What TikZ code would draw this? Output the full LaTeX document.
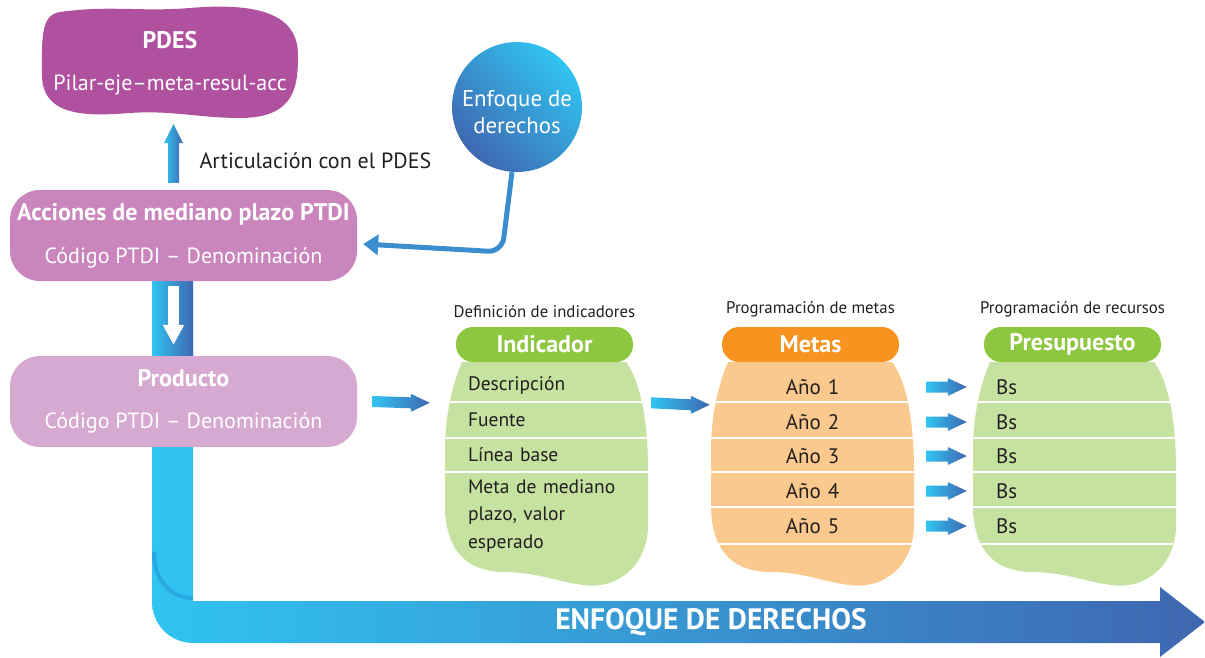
\documentclass[tikz,border=0pt]{standalone}
\usepackage{fontspec}
\setmainfont{PT Sans}
\usetikzlibrary{arrows.meta,calc,positioning}

\definecolor{pdespurple}{HTML}{B0519F}
\definecolor{accpurple}{HTML}{C985BC}
\definecolor{prodpurple}{HTML}{D6A9D0}
\definecolor{headgreen}{HTML}{8DC63F}
\definecolor{bodygreen}{HTML}{C6E2A0}
\definecolor{headorange}{HTML}{F7931E}
\definecolor{bodyorange}{HTML}{FBC98E}
\definecolor{arrcyan}{HTML}{30C4F1}
\definecolor{arrblue}{HTML}{3F67B0}
\definecolor{linkblue}{HTML}{3A8ED0}
\definecolor{foldcyan}{HTML}{29A9E1}
\definecolor{textdark}{HTML}{231F20}

% body of a column (indicador position, shifted for the others)
\newcommand{\blobpath}{(462,362) -- (626,362) .. controls (640,380) and (648,420) .. (648,470)
  -- (648,525) .. controls (648,565) and (618,590) .. (583,585)
  .. controls (555,581) and (535,572) .. (505,572)
  .. controls (462,572) and (445,545) .. (445,505)
  -- (445,450) .. controls (445,410) and (455,378) .. (462,362) -- cycle}

% small gradient arrow between two named coordinates
\newcommand{\garrow}[2]{%
  \shade[left color=arrcyan, right color=arrblue]
    ($(#1)+(0,-5.5)$) -- ($(#2)+(-19,-5.5)$) -- ($(#2)+(-19,-9)$) -- (#2)
    -- ($(#2)+(-19,9)$) -- ($(#2)+(-19,5.5)$) -- ($(#1)+(0,5.5)$) -- cycle;}

\tikzset{
  box/.style={rounded corners=30pt, minimum width=347pt, minimum height=91pt,
    text=white, align=center, font=\fontsize{22}{26}\selectfont},
  head/.style={rounded corners=17pt, minimum width=177pt, minimum height=35pt,
    text=white, font=\fontsize{24}{26}\selectfont\bfseries},
  rowtext/.style={minimum width=203pt, minimum height=34pt, inner xsep=23pt,
    text width=157pt, align=left, text=textdark, font=\fontsize{19.5}{27.5}\selectfont},
  collabel/.style={text=textdark, font=\fontsize{16.8}{19}\selectfont}
}

\begin{document}
\begin{tikzpicture}[x=1pt, y=-1pt]
\useasboundingbox (0,0) rectangle (1205,657);

% Enfoque de derechos band
\shade[left color=arrcyan, right color=arrblue]
  (152,281) -- (152,601) .. controls (152,625) and (170,643) .. (194,643)
  -- (1160,643) -- (1160,657) -- (1205,622) -- (1160,587) -- (1160,601)
  -- (193,601) -- (193,281) -- cycle;
\draw[foldcyan, line width=4pt] (154,552) .. controls (154,580) and (170,598) .. (193,598);
\shade[left color=arrcyan, right color=arrblue] (152,281) rectangle (193,356);
\node[font=\fontsize{29.5}{32}\selectfont\bfseries, text=white] (band-label) at (711,622) {ENFOQUE DE DERECHOS};

% PDES
\fill[pdespurple] (60,12) .. controls (110,5) and (140,12) .. (190,8)
  .. controls (260,2) and (298,15) .. (298,55)
  .. controls (298,85) and (296,118) .. (240,118)
  .. controls (200,118) and (170,110) .. (130,113)
  .. controls (90,116) and (42,118) .. (42,75)
  .. controls (42,40) and (40,15) .. (60,12) -- cycle;
\node[minimum width=256pt, minimum height=110pt, text=white, align=center,
  font=\fontsize{22}{26}\selectfont] (pdes) at (170,63)
  {{\fontsize{24}{26}\selectfont\bfseries PDES}\\[16pt]Pilar-eje–meta-resul-acc};

% Acciones and Producto
\node[box, fill=accpurple] (acc) at (183.5,235.5)
  {{\fontsize{24}{26}\selectfont\bfseries Acciones de mediano plazo PTDI}\\[17pt]Código PTDI – Denominación};
\node[box, fill=prodpurple] (prod) at (183.5,401.5)
  {{\fontsize{24}{26}\selectfont\bfseries Producto}\\[16pt]Código PTDI – Denominación};

% Articulacion arrow
\coordinate (bx) at (173.5,0);
\coordinate (up-tail) at (acc.north -| bx);
\coordinate (up-tip) at (pdes.south -| bx);
\shade[left color=arrcyan, right color=arrblue]
  ($(up-tail)+(-5.5,-7)$) -- ($(up-tip)+(-5.5,25)$) -- ($(up-tip)+(-9.5,25)$)
  -- ($(up-tip)+(0,6)$) -- ($(up-tip)+(9.5,25)$) -- ($(up-tip)+(5.5,25)$)
  -- ($(up-tail)+(5.5,-7)$) -- cycle;
\node[anchor=west, text=textdark, font=\fontsize{22}{24}\selectfont] (artic) at (196,161) {Articulación con el PDES};

\draw[white, line width=11pt, -{Triangle[length=20pt, width=20pt]}, shorten <=5pt, shorten >=11pt]
  (acc.south -| bx) -- (prod.north -| bx);

% Enfoque de derechos circle
\node[circle, minimum size=130pt, left color=arrblue, right color=arrcyan, shading angle=135,
  label={[name=enf-text, text=white, align=center, font=\fontsize{22.8}{27}\selectfont, yshift=-5pt]center:Enfoque de\\derechos}]
  (enf) at (517,107) {};
\draw[linkblue, line width=5pt, rounded corners=14pt, -{Triangle[length=15pt, width=20pt]}]
  ([xshift=-5pt]enf.south) -- (502,252) -- ([xshift=6pt, yshift=-8.5pt]acc.east);

% Columns
\foreach \dx/\nm/\hcol/\bcol/\head/\lbl/\nl in {0/ind/headgreen/bodygreen/Indicador/Definición de indicadores/3,
  266/met/headorange/bodyorange/Metas/Programación de metas/5,
  528/pre/headgreen/bodygreen/Presupuesto/Programación de recursos/5}
{
  \begin{scope}[xshift=\dx]
    \fill[\bcol] \blobpath;
    \begin{scope}
      \clip \blobpath;
      \foreach \ly [count=\k] in {402,438,472,507,544}
      {
        \ifnum\k>\nl\relax\else
          \draw[white, line width=2pt] (440,\ly) -- (655,\ly);
        \fi
      }
    \end{scope}
    \node[head, fill=\hcol] (\nm-head) at (544.5,344.5) {\head};
    \node[collabel, above=6pt of \nm-head] (\nm-label) {\lbl};
  \end{scope}
}

% Indicador rows
\node[rowtext] (ind-1) at (546.5,385) {Descripción};
\node[rowtext] (ind-2) at (546.5,420) {Fuente};
\node[rowtext] (ind-3) at (546.5,455) {Línea base};
\node[rowtext] (ind-4) at (546.5,516) {Meta de mediano\\plazo, valor\\esperado};

% Metas and Presupuesto rows
\foreach \i/\y in {1/387,2/422,3/456,4/491,5/526}
{
  \node[rowtext, align=center, font=\fontsize{21}{24}\selectfont] (met-\i) at (812.5,\y) {Año \i};
  \node[rowtext, font=\fontsize{21}{24}\selectfont] (pre-\i) at (1074.5,\y) {Bs};
}

% Arrows between columns
\coordinate (prod-out) at ([xshift=15pt]prod.east);
\coordinate (ind-in) at ([xshift=-15pt]ind-2.north west);
\garrow{prod-out}{ind-in}
\coordinate (ind-out) at ([xshift=3pt]ind-2.north east);
\coordinate (met-in) at ([xshift=-1pt]met-2.north west);
\garrow{ind-out}{met-in}
\foreach \i in {1,...,5}
{
  \coordinate (met-out-\i) at ([xshift=12pt]met-\i.east);
  \coordinate (pre-in-\i) at ([xshift=-6pt]pre-\i.west);
  \garrow{met-out-\i}{pre-in-\i}
}

\end{tikzpicture}
\end{document}
